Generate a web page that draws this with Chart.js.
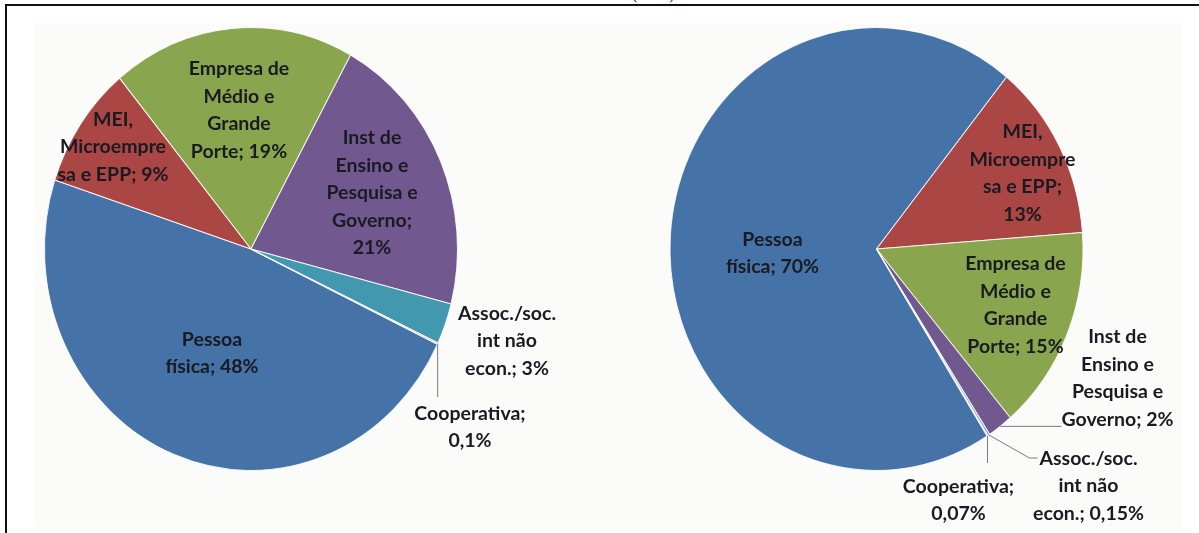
<!DOCTYPE html>
<html>
<head>
<meta charset="utf-8">
<script src="https://cdn.jsdelivr.net/npm/chart.js@4/dist/chart.umd.min.js"></script>
<style>
  html, body { margin: 0; padding: 0; background: #fff; }
  #page { position: relative; width: 1199px; height: 533px; overflow: hidden; }
  #frame { position: absolute; left: 5px; top: 4px; right: -10px; bottom: -10px;
           border-top: 2px solid #111; border-left: 2px solid #111; }
  #panel { position: absolute; left: 35px; top: 23px; width: 1147px; height: 504px; background: #fbfbfa; }
  #cap { position: absolute; left: 632px; top: -15px; font: 16px "Liberation Serif", serif; color: #111; white-space: pre; }
  .box { position: absolute; top: 0; height: 533px; }
</style>
</head>
<body>
<div id="page">
  <div id="cap">(        )</div>
  <div id="panel"></div>
  <div id="frame"></div>
  <div class="box" style="left:0;width:600px"><canvas id="pieLeft"></canvas></div>
  <div class="box" style="left:600px;width:599px"><canvas id="pieRight"></canvas></div>
</div>
<script>
const categories = ['Pessoa física', 'MEI, Microempresa e EPP', 'Empresa de Médio e Grande Porte',
  'Inst de Ensino e Pesquisa e Governo', 'Assoc./soc. int não econ.', 'Cooperativa'];
const valuesLeft = [48, 9, 19, 21, 3, 0.1];
const valuesRight = [70, 13, 15, 2, 0.15, 0.07];
const colors = ['#4572A7', '#AA4643', '#89A54E', '#71588F', '#4198AF', '#DB843D'];

// label wrapping as in the picture, {v} is replaced by the value
const wrapLeft = [
  ['Pessoa', 'física; {v}'],
  ['MEI,', 'Microempre', 'sa e EPP; {v}'],
  ['Empresa de', 'Médio e', 'Grande', 'Porte; {v}'],
  ['Inst de', 'Ensino e', 'Pesquisa e', 'Governo;', '{v}'],
  ['Assoc./soc.', 'int não', 'econ.; {v}'],
  ['Cooperativa;', '{v}']
];
const wrapRight = [
  ['Pessoa', 'física; {v}'],
  ['MEI,', 'Microempre', 'sa e EPP;', '{v}'],
  ['Empresa de', 'Médio e', 'Grande', 'Porte; {v}'],
  ['Inst de', 'Ensino e', 'Pesquisa e', 'Governo; {v}'],
  ['Assoc./soc.', 'int não', 'econ.; {v}'],
  ['Cooperativa;', '{v}']
];

// label block centres relative to the pie centre, and leader lines
const layoutLeft = {
  pos: [[-39, 104], [-138, -102], [-12, -139], [121, -56], [256, 92], [219, 178]],
  leaders: { 5: [[null, 148]] }
};
const layoutRight = {
  pos: [[-104, 4], [146, -76], [139, 56], [241, 129], [212, 237], [82, 251]],
  leaders: { 3: [[185, null]], 4: [[153, 209], [161, 209]], 5: [[null, 214]] }
};

const stretchY = 1.0725;

function fmt(v) {
  return String(v).replace('.', ',') + '%';
}

const pieLabels = {
  id: 'pieLabels',
  beforeDatasetsDraw(chart) {
    const arc = chart.getDatasetMeta(0).data[0];
    const ctx = chart.ctx;
    ctx.save();
    ctx.translate(arc.x, arc.y);
    ctx.scale(1, stretchY);
    ctx.translate(-arc.x, -arc.y);
  },
  afterDatasetsDraw(chart, args, opts) {
    const ctx = chart.ctx;
    ctx.restore();
    const meta = chart.getDatasetMeta(0);
    const values = chart.data.datasets[0].data;
    const cx = meta.data[0].x, cy = meta.data[0].y;

    ctx.save();
    ctx.strokeStyle = '#7a7a7a';
    ctx.lineWidth = 1;
    Object.keys(opts.layout.leaders).forEach(k => {
      const el = meta.data[k];
      const mid = (el.startAngle + el.endAngle) / 2;
      const x0 = cx + el.outerRadius * Math.cos(mid);
      const y0 = cy + el.outerRadius * Math.sin(mid) * stretchY;
      ctx.beginPath();
      ctx.moveTo(x0, y0);
      opts.layout.leaders[k].forEach(p => {
        const x = p[0] === null ? x0 : cx + p[0];
        const y = p[1] === null ? y0 : cy + p[1];
        ctx.lineTo(x, y);
      });
      ctx.stroke();
    });

    ctx.font = 'bold 19.5px Lato';
    ctx.fillStyle = '#1a1a22';
    ctx.textAlign = 'center';
    ctx.textBaseline = 'middle';
    const lh = 27.5;
    opts.wrap.forEach((lines, i) => {
      const p = opts.layout.pos[i];
      const top = cy + p[1] - (lines.length - 1) * lh / 2;
      lines.forEach((t, j) => {
        ctx.fillText(t.replace('{v}', fmt(values[i])), cx + p[0], top + j * lh);
      });
    });
    ctx.restore();
  }
};

function makePie(id, values, rotation, padding, wrap, layout) {
  return new Chart(document.getElementById(id), {
    type: 'pie',
    data: {
      labels: categories,
      datasets: [{
        data: values,
        backgroundColor: colors,
        borderColor: 'rgba(255,255,255,0.85)',
        borderWidth: 1,
        clip: false
      }]
    },
    options: {
      responsive: true,
      maintainAspectRatio: false,
      animation: false,
      rotation: rotation,
      layout: { padding: padding },
      plugins: {
        legend: { display: false },
        tooltip: { enabled: false },
        pieLabels: { wrap: wrap, layout: layout }
      }
    },
    plugins: [pieLabels]
  });
}

makePie('pieLeft', valuesLeft, 115.5, { left: 44, right: 142, top: 42, bottom: 77 }, wrapLeft, layoutLeft);
makePie('pieRight', valuesRight, 147.6, { left: 69.5, right: 115.5, top: 42, bottom: 77 }, wrapRight, layoutRight);
</script>
</body>
</html>
